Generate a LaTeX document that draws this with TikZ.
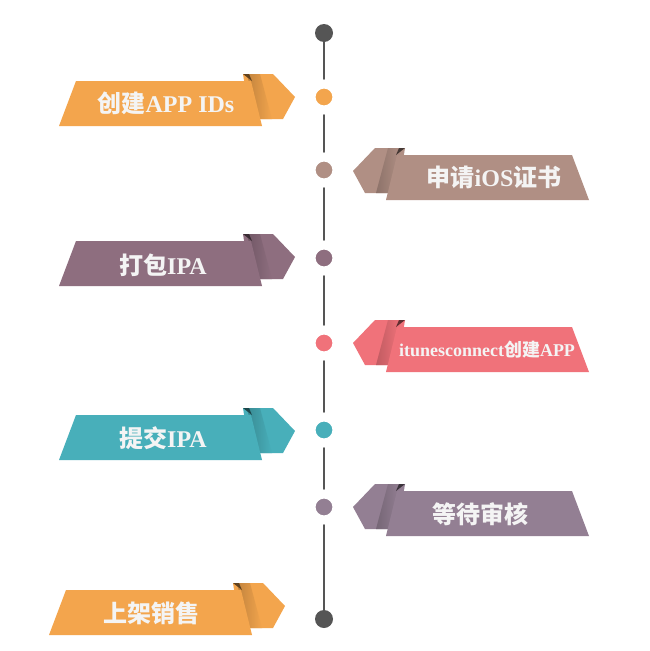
\documentclass[tikz,border=0pt]{standalone}
\usepackage{fontspec}
\setmainfont{Liberation Serif}
\newfontfamily\cjk{Noto Sans CJK SC}
\definecolor{cOrange}{HTML}{F3A54D}
\definecolor{cBrown}{HTML}{B08F84}
\definecolor{cPurple}{HTML}{8E6E7F}
\definecolor{cPink}{HTML}{F0727A}
\definecolor{cTeal}{HTML}{48AFBA}
\definecolor{cLav}{HTML}{937F93}
\definecolor{cLine}{HTML}{555555}
\definecolor{cText}{HTML}{F4F4F4}
\newcommand\myribbon[2]{%
  \begin{scope}
    \path[clip] (243,#1-23)--(273,#1-23)--(295,#1)--(283,#1+22)--(250,#1+22)--cycle;
    \fill[#2] (240,#1-25) rectangle (300,#1+25);
    \shade[left color=#2!80!black, right color=#2] (247,#1-23)--(260,#1-23)--(272,#1+22)--(257,#1+22)--cycle;
  \end{scope}
  \fill[#2!40!black] (243,#1-23)--(249,#1-23)--(252,#1-16)--cycle;
  \fill[#2] (76,#1-16)--(251,#1-16)--(262,#1+29)--(59,#1+29)--cycle;
}
\tikzset{
  lbl/.style={text=cText, font=\bfseries\fontsize{24}{24}\selectfont, inner sep=0pt},
  sml/.style={text=cText, font=\bfseries\fontsize{18}{18}\selectfont, inner sep=0pt},
  tdot/.style={circle, fill=#1, draw=white, line width=9pt, minimum size=26pt, inner sep=0pt},
  edot/.style={circle, fill=cLine, minimum size=18pt, inner sep=0pt}
}
\begin{document}
\begin{tikzpicture}[x=1pt,y=-1pt]
\useasboundingbox (0,0) rectangle (650,651);
\fill[white] (0,0) rectangle (650,651);
% timeline
\node[edot] (top) at (324,33) {};
\node[edot] (bot) at (324,619) {};
\draw[cLine, line width=2pt] (top) -- (bot);
\node[tdot=cOrange] (d1) at (324,97) {};
\node[tdot=cBrown] (d2) at (324,170) {};
\node[tdot=cPurple] (d3) at (324,258) {};
\node[tdot=cPink] (d4) at (324,343) {};
\node[tdot=cTeal] (d5) at (324,430) {};
\node[tdot=cLav] (d6) at (324,507) {};
% left ribbons
\myribbon{97}{cOrange}
\myribbon{257}{cPurple}
\myribbon{431}{cTeal}
\begin{scope}[xshift=-10pt]
\myribbon{606}{cOrange}
\end{scope}
% right ribbons
\begin{scope}[xshift=648pt, xscale=-1]
\myribbon{171}{cBrown}
\myribbon{343}{cPink}
\myribbon{507}{cLav}
\end{scope}
% labels
\node[lbl] (t1) at (166,103) {{\cjk 创建}APP IDs};
\node[lbl] (t2) at (494,177) {{\cjk 申请}iOS{\cjk 证书}};
\node[lbl] (t3) at (163,265) {{\cjk 打包}IPA};
\node[sml] (t4) at (487,350) {itunesconnect{\cjk 创建}APP};
\node[lbl] (t5) at (163,438) {{\cjk 提交}IPA};
\node[lbl] (t6) at (480,514) {\cjk 等待审核};
\node[lbl] (t7) at (151,613) {\cjk 上架销售};
\end{tikzpicture}
\end{document}
